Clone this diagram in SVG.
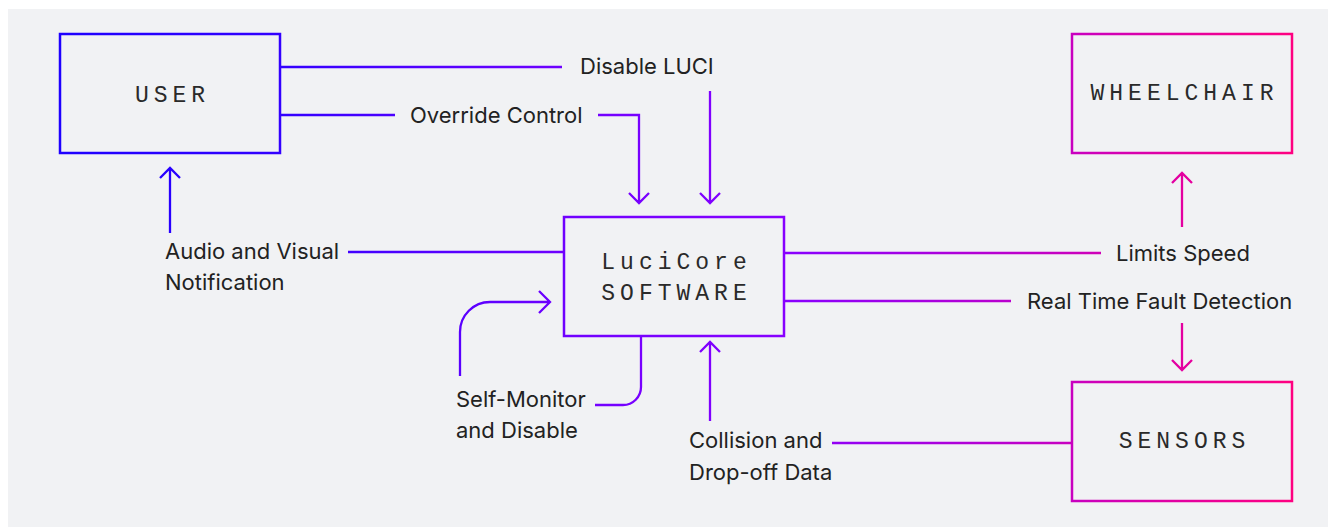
<svg xmlns="http://www.w3.org/2000/svg" width="1328" height="527" viewBox="0 0 1328 527">
<defs>
<linearGradient id="g" gradientUnits="userSpaceOnUse" x1="60" y1="0" x2="1292" y2="0">
<stop offset="0" stop-color="#1e00ff"/>
<stop offset="0.18" stop-color="#3300ff"/>
<stop offset="0.41" stop-color="#7000ff"/>
<stop offset="0.59" stop-color="#8800ff"/>
<stop offset="0.82" stop-color="#c800c0"/>
<stop offset="1" stop-color="#ff0080"/>
</linearGradient>
<style>
.box{fill:none;stroke:url(#g);stroke-width:2.5}
.ln{fill:none;stroke:url(#g);stroke-width:2.3}
.mono{font-family:"Liberation Mono","DejaVu Sans Mono",monospace;font-size:23px;letter-spacing:5px;fill:#2a2a2a;text-anchor:middle}
.lbl{font-family:Inter,"Liberation Sans",sans-serif;font-size:22px;fill:#222}
</style>
</defs>
<rect x="8" y="9" width="1320" height="518" fill="#f1f2f4"/>
<g id="connectors">
<path class="ln" d="M280,67 H562 M710,91 V203 M700,193 L710,203 L720,193"/>
<path class="ln" d="M280,115 H395 M598,115 H639 V203 M629,193 L639,203 L649,193"/>
<path class="ln" d="M564,252 H348 M170,233 V168 M160,178 L170,168 L180,178"/>
<path class="ln" d="M784,253 H1101 M1182,227 V173 M1172,183 L1182,173 L1192,183"/>
<path class="ln" d="M784,301 H1011 M1182,323 V370 M1172,360 L1182,370 L1192,360"/>
<path class="ln" d="M1072,443 H832 M710,421 V342 M700,352 L710,342 L720,352"/>
<path class="ln" d="M641,336 V387 A18,18 0 0 1 623,405 H595 M460,376 V332 A30,30 0 0 1 490,302 H550 M539,291 L550,302 L539,313"/>
<text class="lbl" x="580" y="74">Disable LUCI</text>
<text class="lbl" x="410" y="123">Override Control</text>
<text class="lbl" x="165" y="259">Audio and Visual</text>
<text class="lbl" x="165" y="290">Notification</text>
<text class="lbl" x="1116" y="261">Limits Speed</text>
<text class="lbl" x="1027" y="309">Real Time Fault Detection</text>
<text class="lbl" x="456" y="407">Self-Monitor</text>
<text class="lbl" x="456" y="438">and Disable</text>
<text class="lbl" x="689" y="448">Collision and</text>
<text class="lbl" x="689" y="480">Drop-off Data</text>
</g>
<g id="user">
<rect class="box" x="60" y="34" width="220" height="119"/>
<text class="mono" x="172.5" y="102">USER</text>
</g>
<g id="lucicore">
<rect class="box" x="564" y="217" width="220" height="119"/>
<text class="mono" x="676.5" y="269">LuciCore</text>
<text class="mono" x="676.5" y="300">SOFTWARE</text>
</g>
<g id="wheelchair">
<rect class="box" x="1072" y="34" width="220" height="119"/>
<text class="mono" x="1184.5" y="100">WHEELCHAIR</text>
</g>
<g id="sensors">
<rect class="box" x="1072" y="382" width="220" height="119"/>
<text class="mono" x="1184.5" y="448">SENSORS</text>
</g>
</svg>
